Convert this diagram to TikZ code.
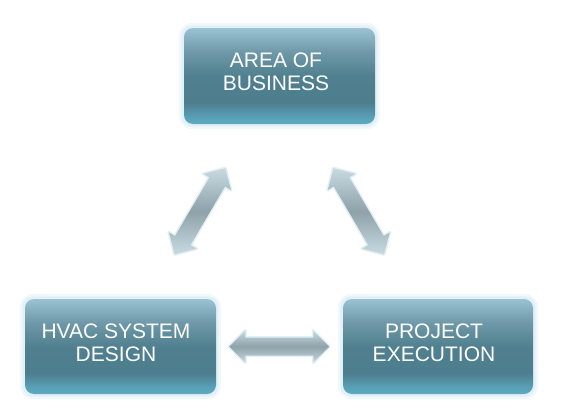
\documentclass[tikz,border=0pt]{standalone}
\usepackage{fontspec}
\setmainfont{Liberation Sans}
\usetikzlibrary{calc}
\definecolor{glowc}{HTML}{D8ECF5}
\definecolor{arrglow}{HTML}{E4F0F5}
\pgfdeclareverticalshading{boxshade}{100bp}{%
  color(0bp)=(rgb,255:red,95;green,171;blue,195);
  color(25bp)=(rgb,255:red,95;green,171;blue,195);
  color(29bp)=(rgb,255:red,88;green,158;blue,181);
  color(36bp)=(rgb,255:red,77;green,126;blue,142);
  color(50bp)=(rgb,255:red,80;green,128;blue,143);
  color(62bp)=(rgb,255:red,109;green,151;blue,166);
  color(75bp)=(rgb,255:red,154;green,194;blue,210);
  color(100bp)=(rgb,255:red,154;green,194;blue,210)}
\pgfdeclareverticalshading{arrowshade}{100bp}{%
  color(0bp)=(rgb,255:red,200;green,217;blue,225);
  color(25bp)=(rgb,255:red,200;green,217;blue,225);
  color(50bp)=(rgb,255:red,142;green,162;blue,170);
  color(75bp)=(rgb,255:red,200;green,217;blue,225);
  color(100bp)=(rgb,255:red,200;green,217;blue,225)}
\tikzset{
  boxnode/.style={rectangle, rounded corners=9pt, shading=boxshade, inner sep=0pt},
  boxtext/.style={text=white, align=center, font=\fontsize{21}{23}\selectfont, inner sep=0pt},
  arrowfill/.style={shading=arrowshade, preaction={draw=arrglow, line width=3pt, line join=round}}
}
\newcommand\dbarrow[3]{%
  \coordinate (#3m) at ($(#1)!0.5!(#2)$);
  \coordinate (#3t1) at ($(#3m)!50pt!(#1)$);
  \coordinate (#3t2) at ($(#3m)!50pt!(#2)$);
  \coordinate (#3h1) at ($(#3m)!34pt!(#1)$);
  \coordinate (#3h2) at ($(#3m)!34pt!(#2)$);
  \path[arrowfill] (#3t1) -- ($(#3h1)!16pt!90:(#3m)$) -- ($(#3h1)!9pt!90:(#3m)$)
    -- ($(#3h2)!9pt!-90:(#3m)$) -- ($(#3h2)!16pt!-90:(#3m)$) -- (#3t2)
    -- ($(#3h2)!16pt!90:(#3m)$) -- ($(#3h2)!9pt!90:(#3m)$)
    -- ($(#3h1)!9pt!-90:(#3m)$) -- ($(#3h1)!16pt!-90:(#3m)$) -- cycle;
}
\newcommand\glowbox[1]{%
  \fill[glowc, opacity=0.35, rounded corners=14pt] ([shift={(-5,5)}]#1.south west) rectangle ([shift={(5,-5)}]#1.north east);
  \fill[glowc, opacity=0.6, rounded corners=11pt] ([shift={(-2.5,2.5)}]#1.south west) rectangle ([shift={(2.5,-2.5)}]#1.north east);
}
\begin{document}
\begin{tikzpicture}[x=1pt, y=-1pt]
\useasboundingbox (0,0) rectangle (584,418);
\fill[white] (0,0) rectangle (584,418);
\path (279.5,76) node[minimum width=191pt, minimum height=96pt, inner sep=0pt] (area) {};
\path (120.5,346.5) node[minimum width=191pt, minimum height=95pt, inner sep=0pt] (hvac) {};
\path (438,346.5) node[minimum width=190pt, minimum height=95pt, inner sep=0pt] (proj) {};
\glowbox{area}
\glowbox{hvac}
\glowbox{proj}
\node[boxnode, minimum width=191pt, minimum height=96pt] (areabox) at (area) {};
\node[boxnode, minimum width=191pt, minimum height=95pt] (hvacbox) at (hvac) {};
\node[boxnode, minimum width=190pt, minimum height=95pt] (projbox) at (proj) {};
\node[boxtext] (areatxt) at ($(area)+(-3.5,-4.5)$) {AREA OF\\BUSINESS};
\node[boxtext] (hvactxt) at ($(hvac)+(-4.5,-4)$) {HVAC SYSTEM\\DESIGN};
\node[boxtext] (projtxt) at ($(proj)+(-4,-4)$) {PROJECT\\EXECUTION};
\dbarrow{hvac}{area}{la}
\dbarrow{area}{proj}{ra}
\dbarrow{hvac}{proj}{ha}
\end{tikzpicture}
\end{document}
